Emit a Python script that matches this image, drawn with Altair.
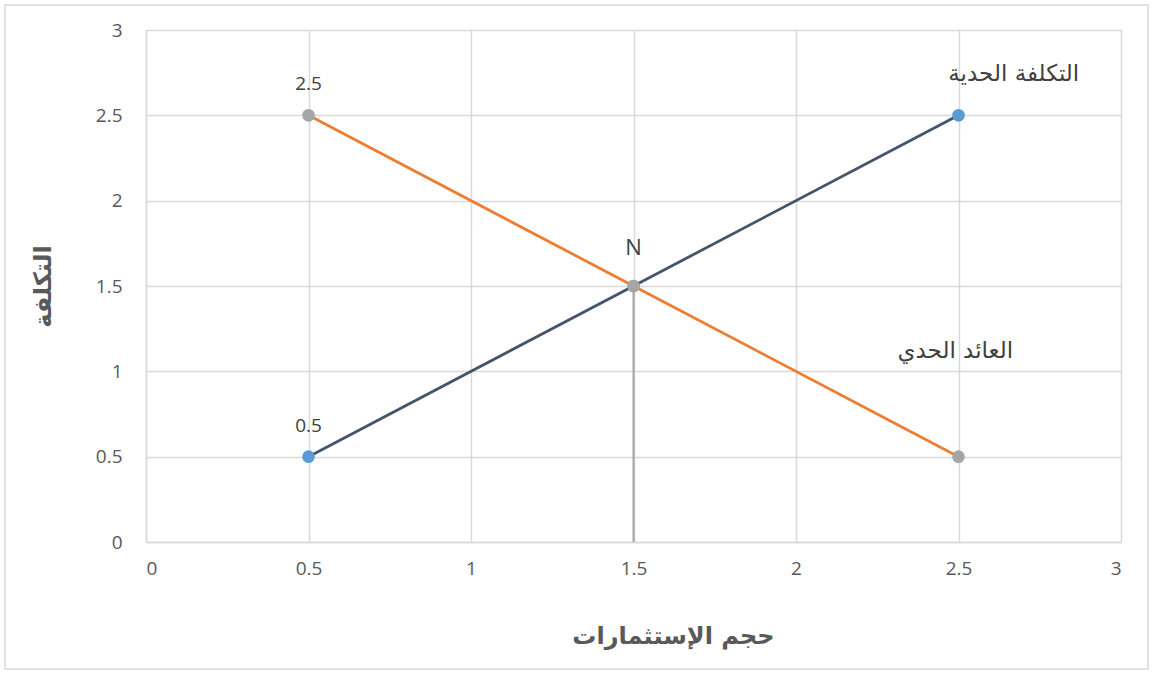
import altair as alt
import pandas as pd

# data
cost_x = [0.5, 1.5, 2.5]
cost_y = [0.5, 1.5, 2.5]
rev_x = [0.5, 1.5, 2.5]
rev_y = [2.5, 1.5, 0.5]
cost_marker_colors = ["#5B9BD5", "#A5A5A5", "#5B9BD5"]

point_labels = ["2.5", "0.5"]
point_label_x = [0.5, 0.5]
point_label_y = [2.5, 0.5]

n_label = ["N"]
n_x = [1.5]
n_y = [1.5]

ann_text = ["التكلفة الحدية", "العائد الحدي"]
ann_x = [2.67, 2.49]
ann_y = [2.74, 1.12]

drop_x = [1.5, 1.5]
drop_y = [1.5, 0.0]

W, H = 975, 512
FONT = "Open Sans"
AR_FONT = "DejaVu Sans"

cost = pd.DataFrame({"x": cost_x, "y": cost_y, "c": cost_marker_colors})
rev = pd.DataFrame({"x": rev_x, "y": rev_y})
labels = pd.DataFrame({"x": point_label_x, "y": point_label_y, "t": point_labels})
nlab = pd.DataFrame({"x": n_x, "y": n_y, "t": n_label})
ann = pd.DataFrame({"x": ann_x, "y": ann_y, "t": ann_text})
drop = pd.DataFrame({"x": drop_x, "y": drop_y})

xs = alt.Scale(domain=[0, 3], nice=False)
ys = alt.Scale(domain=[0, 3], nice=False)

xaxis = alt.Axis(values=[0, 0.5, 1, 1.5, 2, 2.5, 3], title="حجم الإستثمارات",
                 labelFontSize=19, labelColor="#595959", labelFont=FONT, labelPadding=17,
                 ticks=False, grid=True, gridColor="#D9D9D9", gridWidth=1.5,
                 domainColor="#D9D9D9", domainWidth=1.5,
                 titleFont=AR_FONT, titleFontSize=24, titleFontWeight="bold",
                 titleColor="#595959", titlePadding=46, titleX=527,
                 labelExpr="datum.value")
yaxis = alt.Axis(values=[0, 0.5, 1, 1.5, 2, 2.5, 3], title="التكلفة",
                 labelFontSize=19, labelColor="#595959", labelFont=FONT, labelPadding=24,
                 ticks=False, grid=True, gridColor="#D9D9D9", gridWidth=1.5,
                 domainColor="#D9D9D9", domainWidth=1.5,
                 titleFont=AR_FONT, titleFontSize=24, titleFontWeight="bold",
                 titleColor="#595959", titlePadding=40,
                 labelExpr="datum.value")

border = alt.Chart(pd.DataFrame({"a": [0]})).mark_rect(
    fill=None, stroke="#D9D9D9", strokeWidth=1.5
).encode(x=alt.value(-141), x2=alt.value(1002), y=alt.value(-25), y2=alt.value(639))

base_axes = alt.Chart(drop).mark_point(opacity=0).encode(
    x=alt.X("x:Q", scale=xs, axis=xaxis),
    y=alt.Y("y:Q", scale=ys, axis=yaxis),
)

drop_line = alt.Chart(drop).mark_line(color="#A5A5A5", strokeWidth=2).encode(
    x=alt.X("x:Q", scale=xs), y=alt.Y("y:Q", scale=ys))

cost_line = alt.Chart(cost).mark_line(color="#44546A", strokeWidth=2.8).encode(
    x=alt.X("x:Q", scale=xs), y=alt.Y("y:Q", scale=ys))
rev_line = alt.Chart(rev).mark_line(color="#ED7D31", strokeWidth=2.8).encode(
    x=alt.X("x:Q", scale=xs), y=alt.Y("y:Q", scale=ys))

rev_pts = alt.Chart(rev).mark_circle(size=160, opacity=1, color="#A5A5A5").encode(
    x=alt.X("x:Q", scale=xs), y=alt.Y("y:Q", scale=ys))
cost_pts = alt.Chart(cost).mark_circle(size=160, opacity=1).encode(
    x=alt.X("x:Q", scale=xs), y=alt.Y("y:Q", scale=ys),
    color=alt.Color("c:N", scale=None))

lab = alt.Chart(labels).mark_text(fontSize=19, font=FONT, color="#404040", dy=-31).encode(
    x=alt.X("x:Q", scale=xs), y=alt.Y("y:Q", scale=ys), text="t:N")

n_t = alt.Chart(nlab).mark_text(fontSize=22, font=FONT, color="#404040", dy=-38).encode(
    x=alt.X("x:Q", scale=xs), y=alt.Y("y:Q", scale=ys), text="t:N")

ann_t = alt.Chart(ann).mark_text(fontSize=23, font=AR_FONT, color="#404040").encode(
    x=alt.X("x:Q", scale=xs), y=alt.Y("y:Q", scale=ys), text="t:N")

chart = alt.layer(border, base_axes, drop_line, cost_line, rev_line, rev_pts, cost_pts, lab, n_t, ann_t).properties(
    width=W, height=H,
    padding={"left": 146, "top": 30, "right": 32, "bottom": 133},
    autosize=alt.AutoSizeParams(type="none"),
    background="white",
).configure_view(stroke=None)

chart.save("out.html", embed_options={"renderer": "svg", "actions": False})
